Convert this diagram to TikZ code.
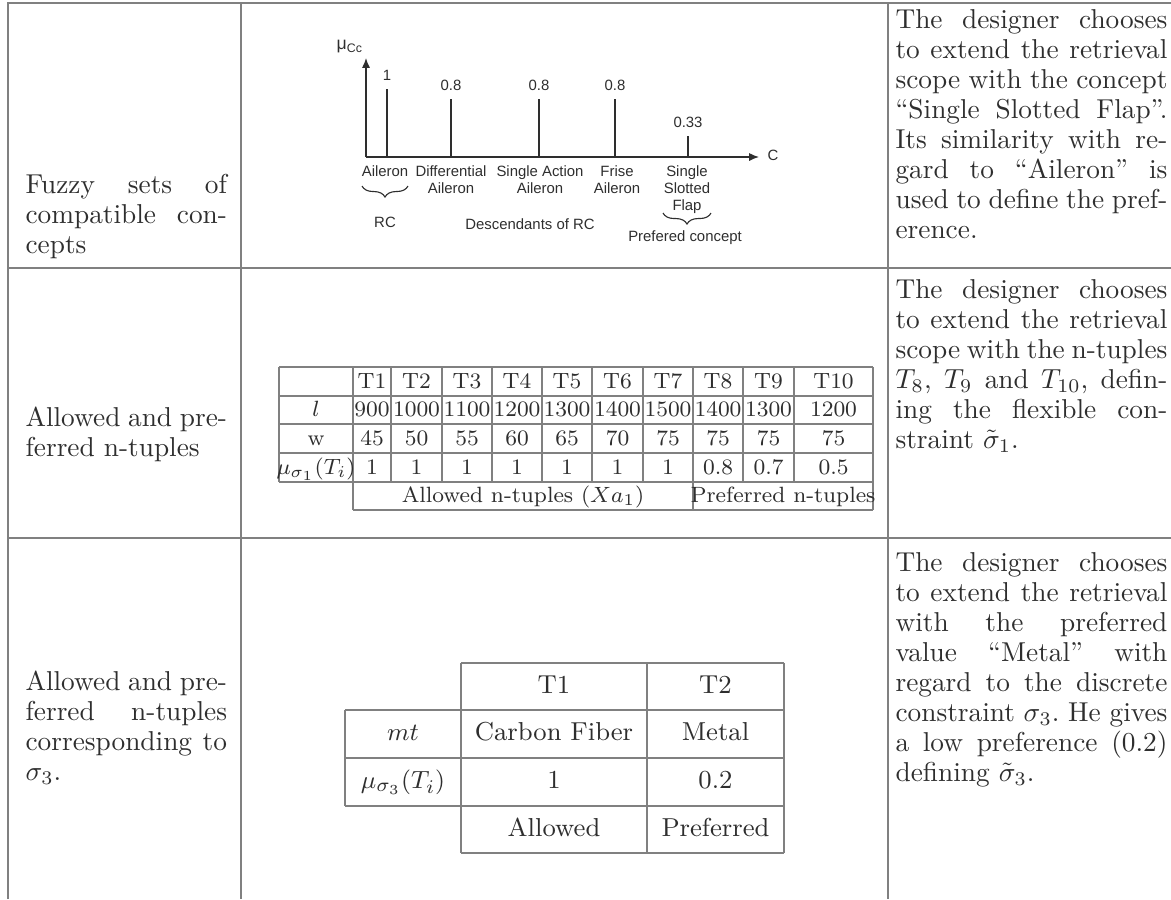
\documentclass[tikz,border=0pt]{standalone}
\usepackage{fontspec}
\newfontfamily\chartfont{Liberation Sans}
\usetikzlibrary{arrows.meta,decorations.pathreplacing}

\definecolor{rulegray}{gray}{0.5}
\definecolor{ink}{gray}{0.18}

\newcommand\bodyfont{\fontsize{9.9}{10.9}\selectfont\frenchspacing}
\newcommand\tupfont{\fontsize{8}{9.6}\selectfont}
\newcommand\matfont{\fontsize{9.4}{11.3}\selectfont}
\newcommand\chartsize{\chartfont\fontsize{5.4}{6.2}\selectfont}

\tikzset{cell/.style={inner sep=0pt,text=ink,text height=1.5ex,text depth=.35ex}}

\begin{document}
\begin{tikzpicture}[x=0.3623pt,y=-0.3623pt]

        \useasboundingbox (0,0) rectangle (1171,899);

        % frame of the big table
        \begin{scope}[rulegray,line width=0.6pt]
          \draw (8,899) -- (8,3) -- (1171,3);
          \draw (241,3) -- (241,899);
          \draw (888,3) -- (888,899);
          \draw (8,268) -- (1171,268);
          \draw (8,538) -- (1171,538);
        \end{scope}

        % first column
        \begin{scope}[every node/.style={anchor=base west,inner sep=0pt,text width=73pt,
            align=justify,text=ink,font=\bodyfont}]
          \node (fuzzy)  at (25,193) {Fuzzy sets of\linebreak compatible con-\linebreak cepts};
          \node (allow1) at (25,426) {Allowed and pre-\linebreak ferred n-tuples};
          \node (allow3) at (25,690) {Allowed and pre-\linebreak ferred n-tuples\linebreak
            corresponding to\linebreak $\sigma_3$.};
        \end{scope}

        % last column
        \begin{scope}[every node/.style={anchor=base west,inner sep=0pt,text width=98.5pt,
            align=justify,text=ink,font=\bodyfont}]
          \node (why1) at (895,28) {The designer chooses\linebreak to extend the retrieval\linebreak
            scope with the concept\linebreak ``Single Slotted Flap''.\linebreak
            Its similarity with re-\linebreak gard to ``Aileron'' is\linebreak
            used to define the pref-\linebreak erence.};
          \node (why2) at (895,298) {The designer chooses\linebreak to extend the retrieval\linebreak
            scope with the n-tuples\linebreak $T_8$, $T_9$ and $T_{10}$, defin-\linebreak
            ing the flexible con-\linebreak straint $\tilde{\sigma}_1$.};
          \node (why3) at (895,571) {The designer chooses\linebreak to extend the retrieval\linebreak
            with the preferred\linebreak value ``Metal'' with\linebreak
            regard to the discrete\linebreak constraint $\sigma_3$. He gives\linebreak
            a low preference (0.2)\linebreak defining $\tilde{\sigma}_3$.};
        \end{scope}

        % fuzzy set of concepts
        \begin{scope}[ink,font=\chartsize]
          \coordinate (O) at (366,157);
          \coordinate (ytop) at (366,58);
          \coordinate (xend) at (759,157);
          \draw[line width=0.55pt,-{Latex[length=3.6pt,width=3pt]}] (O) -- (ytop);
          \draw[line width=0.55pt,-{Latex[length=3.6pt,width=3pt]}] (O) -- (xend);
          \node (mu) at (350,47) {\fontsize{6.4}{7}\selectfont μ\textsubscript{Cc}};
          \node (C)  at (773,155) {C};
          \foreach \x/\t/\v [count=\i] in {387/89/1, 451/99/0.8, 539/99/0.8, 615/99/0.8, 688/136/0.33}{
            \draw[line width=0.9pt] (\x,157) -- (\x,\t);
            \node (v\i) at (\x,\t-14) {\v};
          }
          \begin{scope}[every node/.style={anchor=north,inner sep=0pt,align=center}]
            \node (c1) at (385,165) {Aileron};
            \node (c2) at (451,165) {Differential\\Aileron};
            \node (c3) at (540,165) {Single Action\\Aileron};
            \node (c4) at (617,165) {Frise\\Aileron};
            \node (c5) at (687,165) {Single\\Slotted\\Flap};
          \end{scope}
          \draw[line width=0.4pt,decorate,decoration={brace,mirror,amplitude=4pt}] (362,186) -- (408,186);
          \draw[line width=0.4pt,decorate,decoration={brace,mirror,amplitude=4pt}] (663,213) -- (711,213);
          \node (rc)    at (385,222) {RC};
          \node (desc)  at (530,224) {Descendants of RC};
          \node (prefc) at (685,238) {Prefered concept};
        \end{scope}

        % n-tuples of sigma 1
        \begin{scope}[rulegray,line width=0.5pt]
          \foreach \y in {367,396,424,453,482} \draw (279,\y) -- (873,\y);
          \draw (353,510) -- (873,510);
          \foreach \x in {279,391,442,492,542,592,643,743,794} \draw (\x,367) -- (\x,482);
          \foreach \x in {353,693,873} \draw (\x,367) -- (\x,510);
        \end{scope}

        \begin{scope}[every node/.style={cell,font=\tupfont}]
          \node (lrow) at (316,410)   {$l$};
          \node (wrow) at (316,438.5) {w};
          \node (mrow) at (316,467.5) {$\mu_{\sigma_1}(T_i)$};
          \foreach \x/\l/\w/\m [count=\i] in {372/900/45/1, 416.5/1000/50/1, 467/1100/55/1,
              517/1200/60/1, 567/1300/65/1, 617.5/1400/70/1, 668/1500/75/1,
              718/1400/75/0.8, 768.5/1300/75/0.7, 833.5/1200/75/0.5}{
            \node (t\i) at (\x,381.5) {T\i};
            \node (l\i) at (\x,410)   {\l};
            \node (w\i) at (\x,438.5) {\w};
            \node (m\i) at (\x,467.5) {\m};
          }
          \node (allowed)   at (523,496) {Allowed n-tuples ($Xa_1$)};
          \node (preferred) at (783,496) {Preferred n-tuples};
        \end{scope}

        % n-tuples of sigma 3
        \begin{scope}[rulegray,line width=0.5pt]
          \draw (461,663) -- (784,663);
          \foreach \y in {710,758,806} \draw (345,\y) -- (784,\y);
          \draw (461,853) -- (784,853);
          \draw (345,710) -- (345,806);
          \foreach \x in {461,647,784} \draw (\x,663) -- (\x,853);
        \end{scope}

        \begin{scope}[every node/.style={cell,font=\matfont}]
          \node (mt)     at (403,734)   {$mt$};
          \node (mu3)    at (403,782)   {$\mu_{\sigma_3}(T_i)$};
          \node (s1)     at (554,687)   {T1};
          \node (s2)     at (715.5,687) {T2};
          \node (carbon) at (554,734)   {Carbon Fiber};
          \node (metal)  at (715.5,734) {Metal};
          \node (one)    at (554,782)   {1};
          \node (low)    at (715.5,782) {0.2};
          \node (allow)  at (554,830)   {Allowed};
          \node (pref)   at (715.5,830) {Preferred};
        \end{scope}

      \end{tikzpicture}
\end{document}
